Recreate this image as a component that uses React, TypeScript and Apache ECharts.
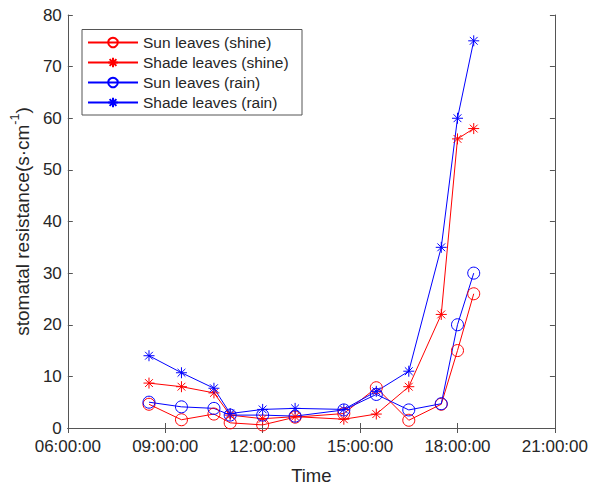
import React, { useEffect, useRef } from "react";
import * as echarts from "echarts";

const times = ["08:30", "09:30", "10:30", "11:00", "12:00", "13:00", "14:30", "15:30", "16:30", "17:30", "18:00", "18:30"];
const sunShine = [4.6, 1.6, 2.7, 1.0, 0.6, 2.1, 2.8, 7.8, 1.5, 4.6, 15, 26];
const shadeShine = [8.7, 8.0, 6.8, 2.5, 1.8, 2.2, 1.7, 2.7, 8.0, 22, 56, 58];
const sunRain = [5.0, 4.1, 3.8, 2.5, 2.5, 2.3, 3.5, 6.5, 3.5, 4.7, 20, 30];
const shadeRain = [14, 10.7, 7.7, 2.8, 3.6, 3.8, 3.6, 7.1, 11, 35, 60, 75];
const seriesNames = ["Sun leaves (shine)", "Shade leaves (shine)", "Sun leaves (rain)", "Shade leaves (rain)"];

const FONT = "'Liberation Sans', Arial, Helvetica, sans-serif";
const TEXT = "#262626";
const AXIS = "#555555";
const STAR = "path://M5 0 L5 10 M0 5 L10 5 M1.46 1.46 L8.54 8.54 M1.46 8.54 L8.54 1.46";

const toHours = (t: string) => {
  const [h, m] = t.split(":").map(Number);
  return h + m / 60;
};
const pad = (n: number) => (n < 10 ? "0" + n : "" + n);

function makeSeries(name: string, values: number[], color: string, star: boolean) {
  return {
    name,
    type: "line",
    data: values.map((v, i) => [toHours(times[i]), v]),
    symbol: star ? STAR : "circle",
    symbolSize: star ? 11 : 12,
    showAllSymbol: true,
    lineStyle: { color, width: 1 },
    itemStyle: { color: star ? color : "rgba(0,0,0,0)", borderColor: color, borderWidth: 1 },
    emphasis: { disabled: true },
    xAxisIndex: 0,
    yAxisIndex: 0,
  };
}

export default function App() {
  const ref = useRef<HTMLDivElement>(null);
  useEffect(() => {
    document.body.style.margin = "0";
    const chart = echarts.init(ref.current!, undefined, { renderer: "svg" });
    const tickCommon = { show: true, inside: true, length: 5, lineStyle: { color: AXIS, width: 1 } };
    chart.setOption({
      animation: false,
      backgroundColor: "#ffffff",
      textStyle: { fontFamily: FONT },
      grid: { left: 67, right: 32, top: 15, bottom: 51 },
      graphic: [
        {
          type: "rect",
          z: 3,
          shape: { x: 82, y: 29.5, width: 220, height: 85.5 },
          style: { fill: "#ffffff", stroke: AXIS, lineWidth: 1 },
          silent: true,
        },
      ],
      legend: {
        left: 87,
        top: 33.5,
        z: 10,
        orient: "vertical",
        data: seriesNames,
        itemWidth: 50,
        itemHeight: 12,
        itemGap: 2,
        padding: 0,
        textStyle: { fontFamily: FONT, fontSize: 15.5, color: TEXT, lineHeight: 18 },
        selectedMode: false,
      },
      xAxis: [
        {
          type: "value",
          min: 6,
          max: 21,
          interval: 3,
          name: "Time",
          nameLocation: "middle",
          nameGap: 38,
          nameTextStyle: { fontFamily: FONT, fontSize: 18.5, color: TEXT },
          axisLine: { show: true, lineStyle: { color: AXIS, width: 1 } },
          axisTick: tickCommon,
          splitLine: { show: false },
          axisLabel: {
            fontFamily: FONT,
            fontSize: 17,
            color: TEXT,
            margin: 10,
            formatter: (v: number) => pad(Math.round(v)) + ":00:00",
          },
        },
        {
          type: "value",
          position: "top",
          min: 6,
          max: 21,
          interval: 3,
          axisLine: { show: true, lineStyle: { color: AXIS, width: 1 } },
          axisTick: tickCommon,
          axisLabel: { show: false },
          splitLine: { show: false },
        },
      ],
      yAxis: [
        {
          type: "value",
          min: 0,
          max: 80,
          interval: 10,
          name: "{a|stomatal resistance(s·cm}{b|-1}{a|)}",
          nameLocation: "middle",
          nameGap: 26,
          nameTextStyle: {
            fontFamily: FONT,
            color: TEXT,
            rich: {
              a: { fontFamily: FONT, fontSize: 19, color: TEXT, verticalAlign: "bottom", lineHeight: 24 },
              b: { fontFamily: FONT, fontSize: 12.5, color: TEXT, verticalAlign: "top", lineHeight: 24 },
            },
          },
          axisLine: { show: true, lineStyle: { color: AXIS, width: 1 } },
          axisTick: tickCommon,
          splitLine: { show: false },
          axisLabel: { fontFamily: FONT, fontSize: 17, color: TEXT, margin: 6 },
        },
        {
          type: "value",
          position: "right",
          min: 0,
          max: 80,
          interval: 10,
          axisLine: { show: true, lineStyle: { color: AXIS, width: 1 } },
          axisTick: tickCommon,
          axisLabel: { show: false },
          splitLine: { show: false },
        },
      ],
      series: [
        makeSeries(seriesNames[0], sunShine, "#ff0000", false),
        makeSeries(seriesNames[1], shadeShine, "#ff0000", true),
        makeSeries(seriesNames[2], sunRain, "#0000ff", false),
        makeSeries(seriesNames[3], shadeRain, "#0000ff", true),
      ],
    });
    return () => chart.dispose();
  }, []);
  return <div ref={ref} style={{ width: 591, height: 490 }} />;
}
